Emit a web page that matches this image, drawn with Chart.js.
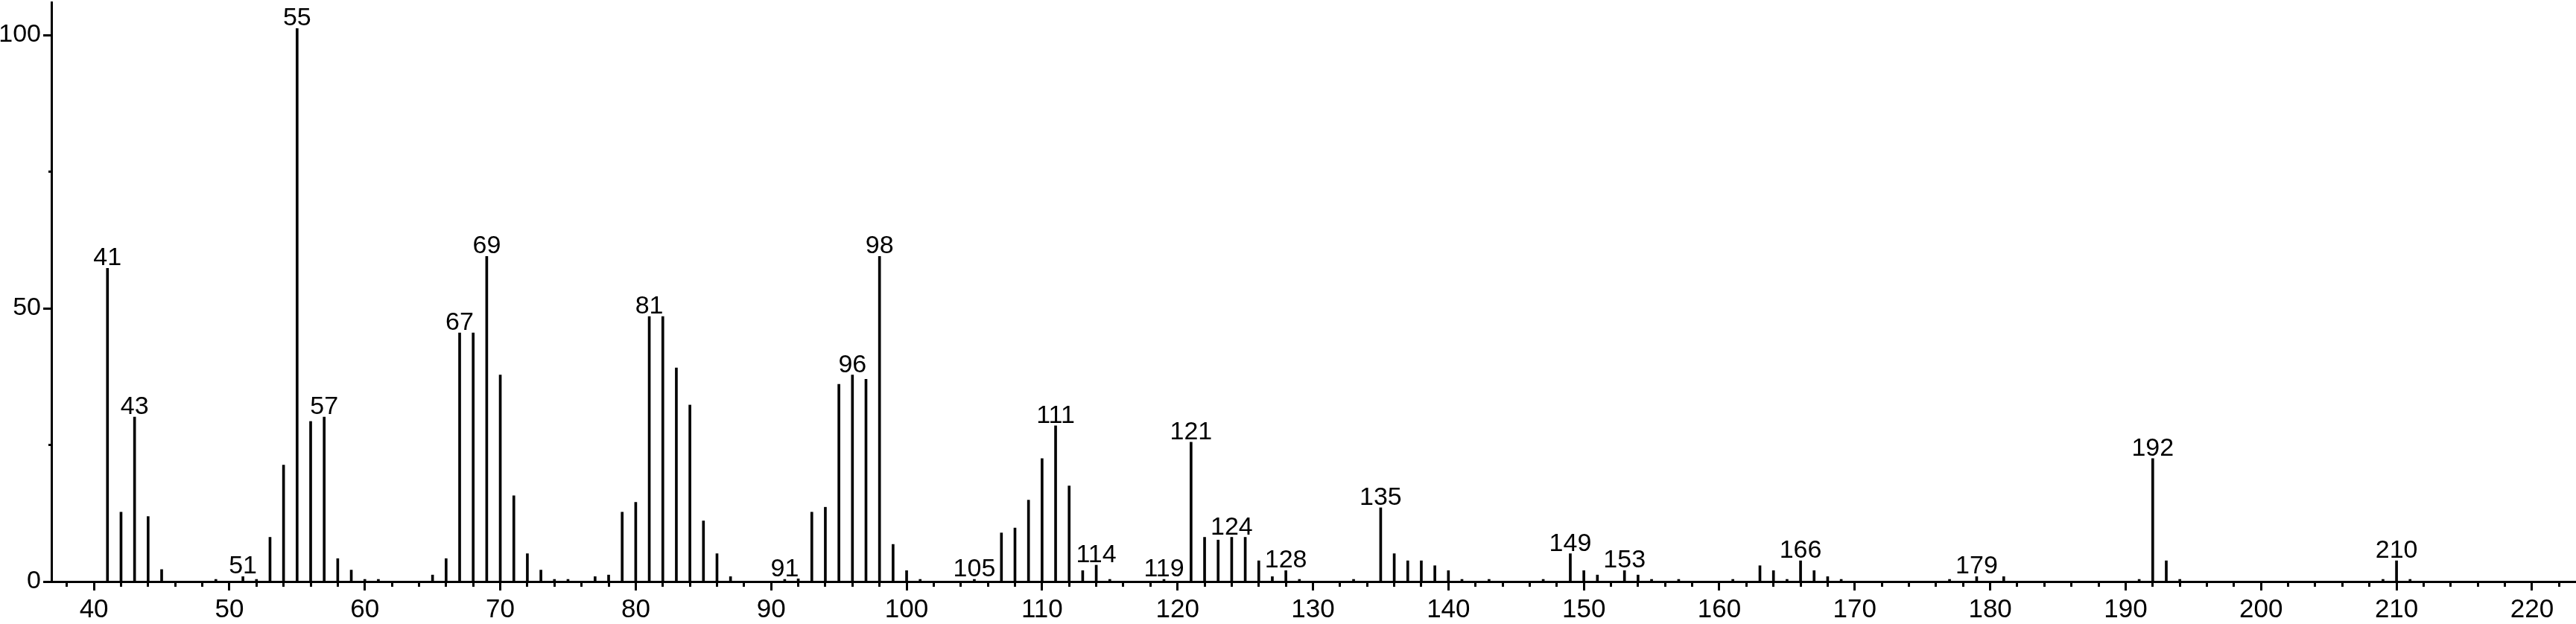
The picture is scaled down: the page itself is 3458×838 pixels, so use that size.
<!DOCTYPE html>
<html>
<head>
<meta charset="utf-8">
<script src="https://cdn.jsdelivr.net/npm/chart.js@4"></script>
<style>
  html, body { margin: 0; padding: 0; background: #fff; }
  canvas { display: block; }
</style>
</head>
<body>
<canvas id="spectrum" width="3458" height="838"></canvas>
<script>
// m/z values and relative intensities
const mzValues = [
  41, 42, 43, 44, 45, 49, 51, 52, 53, 54, 55, 56, 57, 58, 59, 60, 61, 65, 66,
  67, 68, 69, 70, 71, 72, 73, 74, 75, 77, 78, 79, 80, 81, 82, 83, 84, 85, 86, 87,
  91, 92, 93, 94, 95, 96, 97, 98, 99, 100, 101, 105, 107, 108, 109, 110, 111, 112,
  113, 114, 115, 119, 121, 122, 123, 124, 125, 126, 127, 128, 129, 133, 135, 136,
  137, 138, 139, 140, 141, 143, 147, 149, 150, 151, 153, 154, 155, 157, 161, 163,
  164, 165, 166, 167, 168, 169, 177, 179, 181, 191, 192, 193, 194, 209, 210, 211
];
const intensities = [
  57.3, 12.7, 30.1, 11.9, 2.2, 0.4, 0.9, 0.4, 8.1, 21.3, 101.2, 29.3, 30.1, 4.2, 2.1, 0.4, 0.4, 1.2, 4.2,
  45.5, 45.5, 59.5, 37.8, 15.7, 5.1, 2.1, 0.4, 0.4, 0.9, 1.2, 12.7, 14.5, 48.5, 48.5, 39.1, 32.3, 11.1, 5.1, 0.9,
  0.4, 0.5, 12.7, 13.6, 36.1, 37.8, 37.0, 59.5, 6.8, 2.0, 0.4, 0.4, 8.9, 9.8, 14.9, 22.5, 28.5, 17.5,
  2.0, 3.0, 0.4, 0.4, 25.5, 8.1, 7.6, 8.1, 8.1, 3.8, 0.9, 2.0, 0.4, 0.4, 13.5, 5.1,
  3.8, 3.8, 2.9, 2.0, 0.4, 0.4, 0.4, 5.1, 2.0, 1.2, 2.0, 1.2, 0.4, 0.4, 0.4, 2.9,
  2.0, 0.4, 3.8, 2.0, 0.9, 0.4, 0.4, 0.9, 0.9, 0.4, 22.5, 3.8, 0.4, 0.4, 3.8, 0.4
];
const labelledPeaks = [41, 43, 51, 55, 57, 67, 69, 81, 91, 96, 98, 105, 111, 114, 119, 121, 124, 128, 135, 149, 153, 166, 179, 192, 210];

const yTickValues = [0, 25, 50, 75, 100];
const yLabelValues = [0, 50, 100];
const xTickStep = 2;
const xLabelStep = 10;

Chart.defaults.font.family = '"Liberation Sans", Arial, Helvetica, sans-serif';
Chart.defaults.color = '#000';

const peakLabels = {
  id: 'peakLabels',
  afterDatasetsDraw(chart) {
    const meta = chart.getDatasetMeta(0);
    const ctx = chart.ctx;
    ctx.save();
    ctx.font = '34px "Liberation Sans", Arial, sans-serif';
    ctx.fillStyle = '#000';
    ctx.textAlign = 'center';
    ctx.textBaseline = 'alphabetic';
    labelledPeaks.forEach(mz => {
      const i = mzValues.indexOf(mz);
      if (i < 0) return;
      const bar = meta.data[i];
      ctx.fillText(String(mz), bar.x, bar.y - 4);
    });
    ctx.restore();
  }
};

function noPadding(scale) {
  scale.paddingTop = 0;
  scale.paddingBottom = 0;
  scale.paddingLeft = 0;
  scale.paddingRight = 0;
}

new Chart(document.getElementById('spectrum'), {
  type: 'bar',
  data: {
    datasets: [{
      data: mzValues.map((m, i) => ({ x: m, y: intensities[i] })),
      backgroundColor: '#000',
      borderWidth: 0,
      barThickness: 3
    }]
  },
  options: {
    responsive: false,
    animation: false,
    layout: { padding: { top: 3, right: 0, left: 0, bottom: 0 } },
    plugins: { legend: { display: false }, tooltip: { enabled: false } },
    scales: {
      x: {
        type: 'linear',
        min: 36.86,
        max: 223.25,
        offset: false,
        afterFit: scale => { scale.height = 57; noPadding(scale); },
        afterBuildTicks: scale => {
          const ticks = [];
          for (let v = Math.ceil(scale.min / xTickStep) * xTickStep; v <= scale.max; v += xTickStep) ticks.push({ value: v });
          scale.ticks = ticks;
        },
        border: { display: true, color: '#000', width: 3 },
        grid: {
          drawOnChartArea: false,
          drawTicks: true,
          offset: false,
          tickLength: 12,
          tickWidth: 3,
          tickColor: '#000',
          tickBorderDash: c => (c.tick && c.tick.value % xLabelStep === 0) ? [] : [5, 30]
        },
        ticks: {
          autoSkip: false,
          maxRotation: 0,
          padding: 5,
          font: { size: 35 },
          callback: v => (v % xLabelStep === 0 ? String(v) : '')
        }
      },
      y: {
        type: 'linear',
        min: 0,
        max: 106,
        afterFit: scale => { scale.width = 69; noPadding(scale); },
        afterBuildTicks: scale => { scale.ticks = yTickValues.map(v => ({ value: v })); },
        border: { display: true, color: '#000', width: 3 },
        grid: {
          drawOnChartArea: false,
          drawTicks: true,
          tickLength: 11,
          tickWidth: 3,
          tickColor: '#000',
          tickBorderDash: c => (c.tick && yLabelValues.includes(c.tick.value)) ? [] : [4, 7],
          tickBorderDashOffset: c => (c.tick && yLabelValues.includes(c.tick.value)) ? 0 : 4
        },
        ticks: {
          padding: 3,
          font: { size: 34 },
          callback: v => (yLabelValues.includes(v) ? String(v) : '')
        }
      }
    }
  },
  plugins: [peakLabels]
});
</script>
</body>
</html>
